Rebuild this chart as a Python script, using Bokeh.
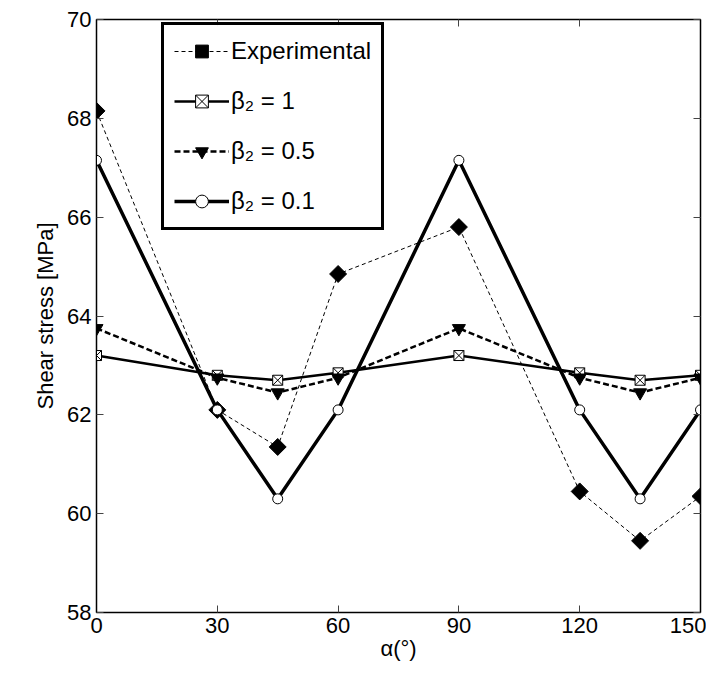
import math
from bokeh.plotting import figure
from bokeh.models import Range1d, LinearAxis, Legend, LegendItem, FixedTicker
from bokeh.embed import file_html
from bokeh.resources import INLINE

angles = [0, 30, 45, 60, 90, 120, 135, 150]
experimental = [68.15, 62.1, 61.35, 64.85, 65.8, 60.45, 59.45, 60.35]
beta_1 = [63.2, 62.8, 62.7, 62.85, 63.2, 62.85, 62.7, 62.8]
beta_05 = [63.75, 62.75, 62.45, 62.75, 63.75, 62.75, 62.45, 62.75]
beta_01 = [67.15, 62.1, 60.3, 62.1, 67.15, 62.1, 60.3, 62.1]
x_ticks = [0, 30, 60, 90, 120, 150]
y_ticks = [58, 60, 62, 64, 66, 68, 70]

p = figure(width=706, height=677, output_backend="svg", toolbar_location=None,
           x_range=Range1d(0, 150), y_range=Range1d(58, 70),
           min_border_left=96, min_border_right=6, min_border_top=19, min_border_bottom=65)
p.grid.visible = False
p.outline_line_color = "black"
p.outline_line_width = 1.5
F = "Liberation Sans"
for ax in (p.xaxis[0], p.yaxis[0]):
    ax.major_label_text_font = F
    ax.major_label_text_font_size = "22px"
    ax.major_label_text_color = "black"
    ax.axis_label_text_font = F
    ax.axis_label_text_font_size = "22px"
    ax.axis_label_text_color = "black"
    ax.axis_label_text_font_style = "normal"
    ax.major_tick_in = 7
    ax.major_tick_out = 0
    ax.minor_tick_line_color = None
    ax.axis_line_color = "black"
    ax.major_tick_line_color = "#444444"
p.xaxis.ticker = FixedTicker(ticks=x_ticks)
p.yaxis.ticker = FixedTicker(ticks=y_ticks)
p.xaxis.axis_label = "α(°)"
p.yaxis.axis_label = "Shear stress [MPa]"
p.xaxis.axis_label_standoff = 0
p.yaxis.axis_label_standoff = 6
for loc, tk in (("above", x_ticks), ("right", y_ticks)):
    a = LinearAxis(ticker=FixedTicker(ticks=tk), major_label_text_font_size="0px",
                   major_tick_in=7, major_tick_out=0, minor_tick_line_color=None,
                   major_tick_line_color="#444444")
    p.add_layout(a, loc)

l1 = p.line(angles, experimental, color="black", line_width=1, line_dash="4 3")
m1 = p.scatter(angles, experimental, marker="square", angle=math.pi / 4, size=12, color="black")
l2 = p.line(angles, beta_1, color="black", line_width=2.5)
m2 = p.scatter(angles, beta_1, marker="square_x", size=10, fill_color="white", line_color="black", line_width=1)
l3 = p.line(angles, beta_05, color="black", line_width=2.5, line_dash="6 3")
m3 = p.scatter(angles, beta_05, marker="inverted_triangle", size=13, color="black")
l4 = p.line(angles, beta_01, color="black", line_width=3.5)
m4 = p.scatter(angles, beta_01, marker="circle", size=10, fill_color="white", line_color="black", line_width=1)

leg = Legend(items=[LegendItem(label="Experimental", renderers=[l1, m1]),
                    LegendItem(label="β₂ = 1", renderers=[l2, m2]),
                    LegendItem(label="β₂ = 0.5", renderers=[l3, m3]),
                    LegendItem(label="β₂ = 0.1", renderers=[l4, m4])],
             location=(65, 382), label_text_font=F, label_text_font_size="24px",
             label_text_color="black",
             border_line_color="black", border_line_alpha=1.0, border_line_width=3,
             glyph_width=55, glyph_height=32,
             spacing=18, padding=10, margin=0, label_standoff=2)
p.add_layout(leg)

open("out.html", "w").write(file_html(p, INLINE))
